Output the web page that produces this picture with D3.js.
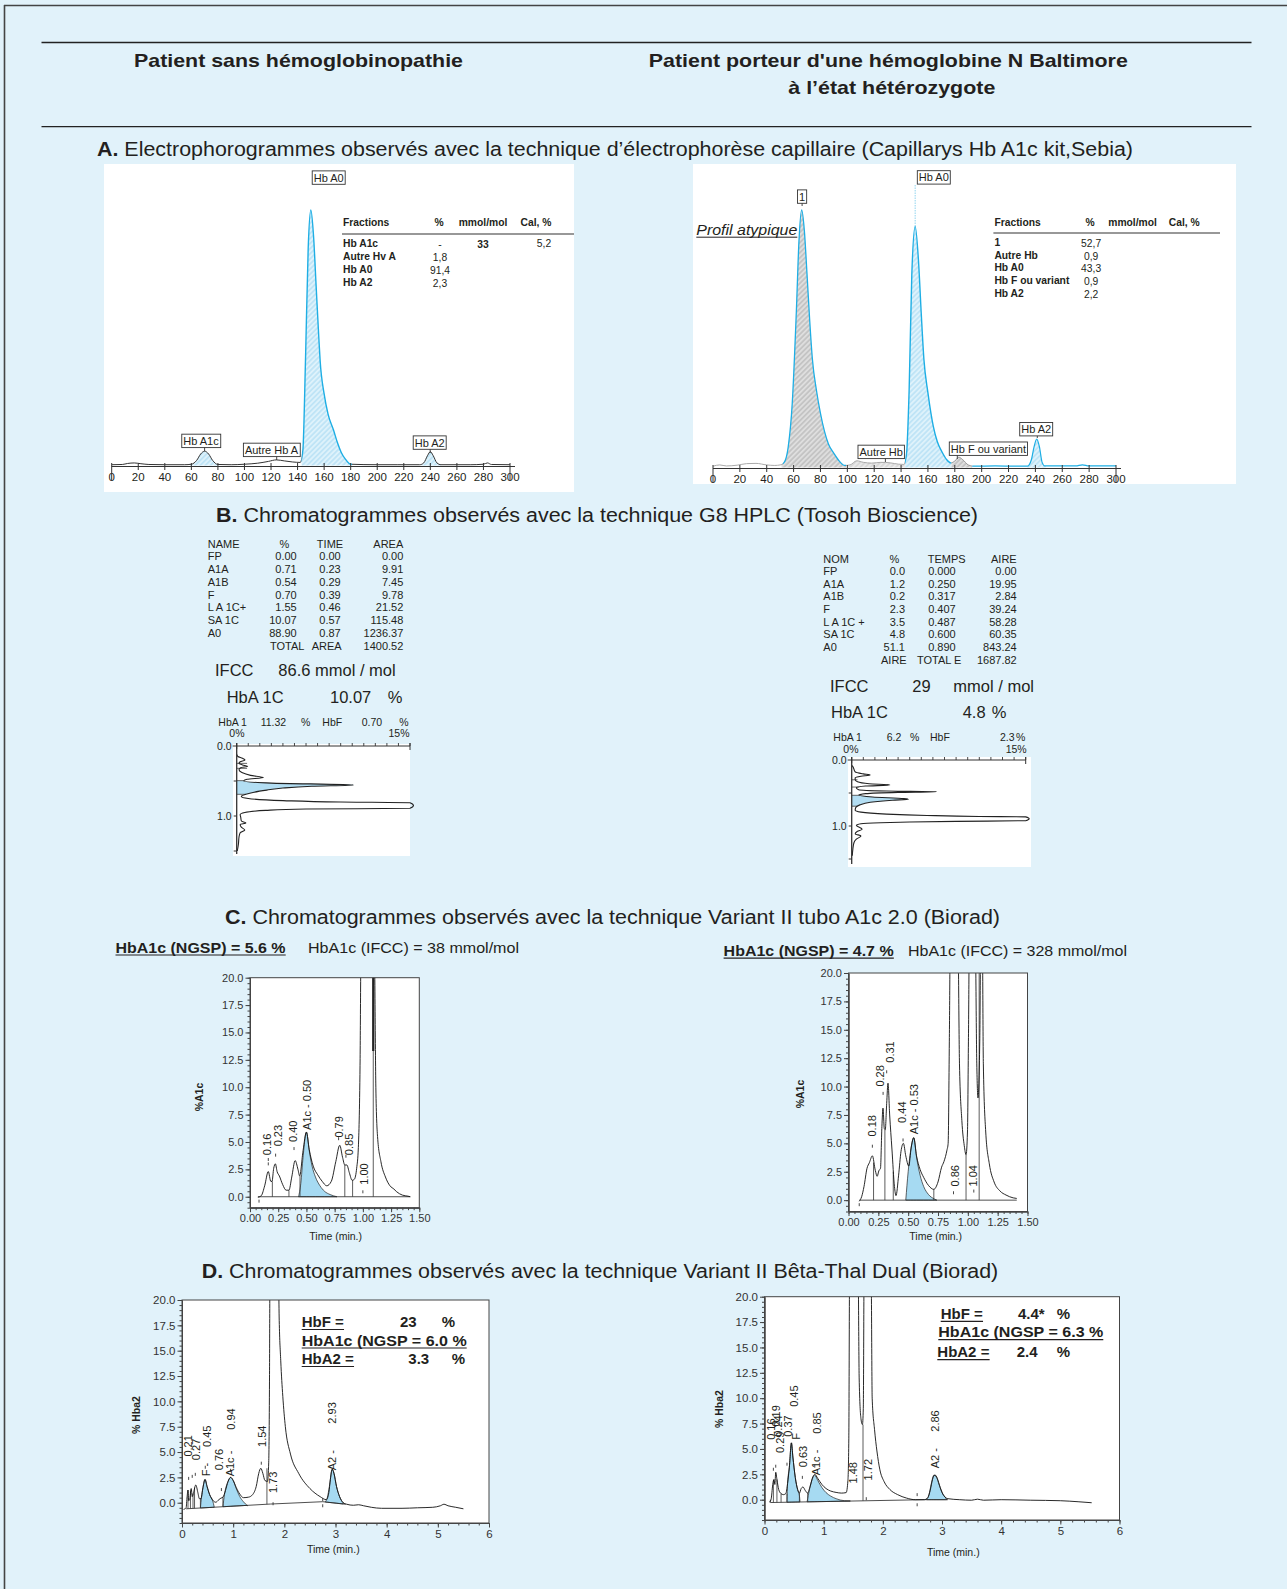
<!DOCTYPE html>
<html><head><meta charset="utf-8">
<script src="https://cdn.jsdelivr.net/npm/d3@7"></script>
<style>
html,body{margin:0;padding:0;background:#e1f2fa;}
svg{display:block;}
text{font-family:'Liberation Sans',Arial,Helvetica,sans-serif;fill:#231f20;}
</style></head><body>
<script>
// ================= DATA =================
const headerLeft = "Patient sans hémoglobinopathie";
const headerRight = ["Patient porteur d'une hémoglobine N Baltimore", "à l’état hétérozygote"];
const titleA = ["A.", "Electrophorogrammes observés avec la technique d’électrophorèse capillaire (Capillarys Hb A1c kit,Sebia)"];
const titleB = ["B.", "Chromatogrammes observés avec la technique G8 HPLC (Tosoh Bioscience)"];
const titleC = ["C.", "Chromatogrammes observés avec la technique Variant II tubo A1c 2.0 (Biorad)"];
const titleD = ["D.", "Chromatogrammes observés avec la technique Variant II Bêta-Thal Dual (Biorad)"];

// Panel A – capillary electrophoresis (x: migration units, y: % of tallest peak)
const elecTicks = [0,20,40,60,80,100,120,140,160,180,200,220,240,260,280,300];
const elecLeft = [[0,0.3],[8,0.4],[12,0.8],[17,1.0],[22,0.7],[28,0.4],[40,0.3],[55,0.3],[60,0.5],[64,2],[67,4.5],[70,5.6],[73,4.5],[76,2],[80,0.4],[90,0.3],[100,0.5],[110,0.9],[118,1.6],[124,2.2],[130,1.8],[136,1.4],[142,1.2],[144,6],[146,42],[148,85],[150,100],[152,90],[154,70],[156,50],[157,41],[160,28],[163,20],[167,14],[170,9],[173,5],[176,2.5],[180,0.5],[200,0.3],[215,0.3],[232,0.3],[235,1],[238,4],[240,5.4],[242,4],[245,1],[248,0.3],[270,0.3],[280,0.5],[283,1],[286,0.4],[300,0.3]];
const elecRight = [[0,0.5],[5,1],[10,0.6],[18,0.9],[25,1.5],[32,1.6],[40,1.0],[46,0.8],[50,1.0],[53,2],[56,8],[59,25],[62,60],[64,88],[66,100],[68,92],[70,75],[72,57],[74,42],[77,30],[80,21],[83,14],[86,9],[90,5.5],[94,2.5],[98,0.8],[102,1.0],[107,2.6],[112,2.0],[118,1.7],[125,2.0],[132,1.8],[138,1.3],[142,1.2],[144,5],[146,30],[148,75],[150.5,93.6],[153,80],[155,60],[157,42],[160,29],[164,16],[167,10],[170.5,6],[174,3],[177,1.8],[180,2.5],[183,4],[186,3],[190,1],[194,0.5],[210,0.6],[225,0.5],[234,0.5],[237,3],[239,8],[241,11],[243,8],[245,2],[247,0.6],[270,0.6],[275,1],[280,0.6],[300,0.6]];
const fracHeader = ["Fractions","%","mmol/mol","Cal, %"];
const fracLeftNames = ["Hb A1c","Autre Hv A","Hb A0","Hb A2"];
const fracLeftPct = ["-","1,8","91,4","2,3"];
const fracLeftMmol = ["33","","",""];
const fracLeftCal = ["5,2","","",""];
const fracRightNames = ["1","Autre Hb","Hb A0","Hb F ou variant","Hb A2"];
const fracRightPct = ["52,7","0,9","43,3","0,9","2,2"];

// Panel B – G8 HPLC (time in min, value in %)
const g8LeftHead = ["NAME","%","TIME","AREA"];
const g8LeftNames = ["FP","A1A","A1B","F","L A 1C+","SA 1C","A0"];
const g8LeftPct = ["0.00","0.71","0.54","0.70","1.55","10.07","88.90"];
const g8LeftTime = ["0.00","0.23","0.29","0.39","0.46","0.57","0.87"];
const g8LeftArea = ["0.00","9.91","7.45","9.78","21.52","115.48","1236.37"];
const g8LeftTotal = ["TOTAL","AREA","1400.52"];
const g8RightHead = ["NOM","%","TEMPS","AIRE"];
const g8RightNames = ["FP","A1A","A1B","F","L A 1C +","SA 1C","A0"];
const g8RightPct = ["0.0","1.2","0.2","2.3","3.5","4.8","51.1"];
const g8RightTime = ["0.000","0.250","0.317","0.407","0.487","0.600","0.890"];
const g8RightArea = ["0.00","19.95","2.84","39.24","58.28","60.35","843.24"];
const g8RightTotal = ["AIRE","TOTAL E","1687.82"];
const g8LeftSummary = {ifcc:"86.6 mmol / mol", a1c:"10.07", hba1:"11.32", hbf:"0.70"};
const g8RightSummary = {ifcc:"29", a1c:"4.8", hba1:"6.2", hbf:"2.3"};
const g8LeftTrace = [[0.12,0],[0.15,0.1],[0.175,0.5],[0.2,0.72],[0.225,0.3],[0.25,0.2],[0.27,0.5],[0.29,0.95],[0.31,0.35],[0.34,0.2],[0.38,0.45],[0.42,1.2],[0.45,2.3],[0.475,0.9],[0.5,0.6],[0.53,3],[0.557,10.1],[0.575,6.5],[0.6,4],[0.63,2.6],[0.66,1.5],[0.69,0.8],[0.72,0.4],[0.75,1.0],[0.78,4],[0.8,9],[0.81,15],[0.85,15.3],[0.89,15],[0.9,6],[0.92,2.5],[0.95,0.7],[0.98,0.3],[1.02,0.35],[1.07,0.4],[1.1,0.8],[1.12,0.3],[1.16,0.4],[1.2,0.7],[1.24,0.3],[1.3,0.2],[1.4,0.15],[1.5,0.05]];
const g8LeftBand = [0.495,0.69];
const g8LeftMarks = [[0.248,0.9],[0.319,0.9],[0.495,0.6],[0.69,0.8]];
const g8RightTrace = [[0.08,0],[0.1,0.1],[0.18,0.3],[0.21,1.0],[0.227,1.6],[0.245,0.8],[0.27,0.3],[0.3,0.3],[0.33,0.5],[0.36,1.5],[0.379,3.3],[0.395,1.2],[0.42,0.4],[0.45,0.6],[0.47,3],[0.48,7.3],[0.49,4],[0.51,1.2],[0.535,0.6],[0.56,1.8],[0.585,4.5],[0.596,4.9],[0.61,3.5],[0.64,1.6],[0.68,0.7],[0.72,0.35],[0.76,0.3],[0.79,0.8],[0.82,3],[0.84,6.5],[0.855,11],[0.862,15],[0.891,15.3],[0.92,15],[0.93,9],[0.94,5],[0.95,2.5],[0.965,0.8],[0.99,0.4],[1.05,0.9],[1.08,0.5],[1.12,0.3],[1.15,0.8],[1.2,0.4],[1.25,0.2],[1.35,0.1],[1.45,0.05]];
const g8RightBand = [0.535,0.70];
const g8RightMarks = [[0.30,0.5],[0.41,0.6],[0.535,0.6],[0.70,0.5]];

// Panel C – Variant II turbo A1c 2.0 (time in min, % A1c)
const cLeftHead = ["HbA1c (NGSP) = 5.6 %","HbA1c (IFCC) = 38 mmol/mol"];
const cRightHead = ["HbA1c (NGSP) = 4.7 %","HbA1c (IFCC) = 328 mmol/mol"];
const cXTicks = [0,0.25,0.5,0.75,1,1.25,1.5];
const cYTicks = [0,2.5,5,7.5,10,12.5,15,17.5,20];
const cLeftTrace = [[0.07,-0.05],[0.1,0.1],[0.13,1.0],[0.162,2.3],[0.185,1.4],[0.195,1.4],[0.21,2.6],[0.225,3.0],[0.24,2.3],[0.26,1.9],[0.29,1.1],[0.32,0.6],[0.345,0.6],[0.37,1.8],[0.4,3.3],[0.425,2.5],[0.44,1.9],[0.47,4.2],[0.5,5.9],[0.525,4.3],[0.56,2.8],[0.6,2.0],[0.64,1.4],[0.68,1.0],[0.72,1.4],[0.76,3.2],[0.795,4.7],[0.82,3.6],[0.84,2.9],[0.858,2.9],[0.88,2.2],[0.905,1.5],[0.925,1.6],[0.945,2.6],[0.96,4.5],[0.975,12],[0.985,24],[1.1,24],[1.115,10],[1.13,5.5],[1.16,3.2],[1.2,1.8],[1.24,1.0],[1.275,0.7],[1.3,0.45],[1.35,0.15],[1.4,0.05],[1.42,0]];
const cLeftBase = [[0.07,0],[1.42,0]];
const cLeftFills = [[[0.43,0],[0.45,1.2],[0.47,3.6],[0.5,5.9],[0.525,4.2],[0.55,2.8],[0.58,1.8],[0.62,1.0],[0.66,0.5],[0.71,0.2],[0.77,0]]];
const cLeftDrops = [[0.198,1.4],[0.345,0.6],[0.443,1.9],[0.84,2.9],[0.909,1.5],[1.092,21]];
const cLeftHeavy = [[1.092,13.3,21]];
const cLeftDots = [[0.162,3.0],[0.162,3.4],[0.227,3.8],[0.39,4.4],[0.785,5.3],[0.85,3.7],[1.0,0.45],[0.08,-0.4]];
const cLeftLabels = [[0.148,3.8,"0.16"],[0.251,4.6,"0.23"],[0.384,5.0,"0.40"],[0.502,6.1,"A1c - 0.50"],[0.791,5.4,"0.79"],[0.88,3.8,"0.85"],[1.013,1.1,"1.00"]];
const cRightTrace = [[0.09,-0.1],[0.11,0.3],[0.13,1.2],[0.155,2.8],[0.175,3.3],[0.2,3.9],[0.225,2.6],[0.24,2.1],[0.255,2.6],[0.268,2.8],[0.28,6.5],[0.289,8.1],[0.3,6.3],[0.308,6.2],[0.32,8.5],[0.331,10.3],[0.345,7.5],[0.364,4.5],[0.385,1.2],[0.398,0.4],[0.42,2.2],[0.44,4.3],[0.46,5.0],[0.48,3.9],[0.505,3.0],[0.525,4.6],[0.547,5.5],[0.57,3.9],[0.6,2.7],[0.63,2.0],[0.67,1.3],[0.715,0.95],[0.75,1.6],[0.78,2.9],[0.8,3.4],[0.825,4.4],[0.835,5],[0.845,14],[0.855,25],[0.915,25],[0.93,12],[0.95,7],[0.97,4.8],[0.985,4.0],[0.997,6],[1.005,14],[1.015,25],[1.06,25],[1.075,12],[1.085,9],[1.1,14],[1.11,25],[1.12,25],[1.13,12],[1.15,6],[1.18,3.2],[1.22,1.6],[1.27,0.8],[1.32,0.45],[1.38,0.2],[1.41,0.15]];
const cRightBase = [[0.09,0],[1.41,0]];
const cRightFills = [[[0.48,0],[0.5,2.5],[0.52,4.3],[0.547,5.5],[0.57,3.8],[0.6,2.2],[0.63,1.2],[0.67,0.5],[0.72,0.1],[0.74,0]]];
const cRightDrops = [[0.21,3.3],[0.305,6.2],[0.375,2.5],[0.715,0.95],[0.985,4.0],[1.095,21]];
const cRightHeavy = [];
const cRightDots = [[0.2,4.75],[0.29,9.4],[0.32,11.3],[0.457,5.3],[0.88,0.65],[1.05,0.8],[0.09,-0.4]];
const cRightLabels = [[0.194,5.6,"0.18"],[0.264,10.0,"0.28"],[0.348,12.1,"0.31"],[0.446,6.8,"0.44"],[0.549,5.8,"A1c - 0.53"],[0.892,1.2,"0.86"],[1.046,1.2,"1.04"]];

// Panel D – Variant II Beta-Thal Dual (time in min, % HbA2)
const dXTicks = [0,1,2,3,4,5,6];
const dYTicks = [0,2.5,5,7.5,10,12.5,15,17.5,20];
const dLeftBox = [["HbF =","23","%"],["HbA1c (NGSP = 6.0 %"],["HbA2 =","3.3","%"]];
const dRightBox = [["HbF =","4.4*","%"],["HbA1c (NGSP = 6.3 %"],["HbA2 =","2.4","%"]];
const dLeftTrace = [[0.03,-0.66],[0.08,-0.5],[0.1,0.6],[0.117,1.25],[0.13,0.2],[0.15,0.3],[0.18,1.4],[0.2,0.6],[0.225,1.0],[0.27,1.75],[0.31,1.0],[0.34,0.4],[0.37,0.4],[0.41,1.5],[0.45,2.3],[0.49,1.6],[0.54,0.8],[0.6,0.25],[0.66,0.05],[0.72,0.3],[0.76,0.45],[0.8,0.55],[0.85,1.2],[0.9,2.1],[0.95,2.5],[1.0,2.2],[1.06,1.5],[1.13,0.85],[1.2,0.5],[1.3,0.55],[1.38,0.8],[1.45,1.6],[1.5,2.9],[1.54,3.4],[1.58,2.9],[1.62,2.2],[1.67,2.1],[1.695,4],[1.71,12],[1.72,24],[1.88,24],[1.9,18],[1.93,14],[1.97,10.5],[2.02,7.5],[2.12,4.8],[2.28,2.9],[2.5,1.4],[2.7,0.6],[2.82,0.3],[2.87,1.0],[2.9,2.3],[2.935,3.3],[2.97,2.9],[3.02,1.6],[3.08,0.6],[3.15,0.0],[3.22,-0.15],[3.35,-0.25],[3.45,-0.2],[3.55,-0.3],[3.7,-0.45],[3.9,-0.55],[4.3,-0.55],[4.6,-0.5],[4.9,-0.45],[5.05,-0.3],[5.12,-0.15],[5.2,-0.3],[5.35,-0.45],[5.5,-0.6]];
const dLeftBase = [[0.08,-0.6],[1.73,-0.13],[2.75,0.1],[3.2,-0.15]];
const dLeftFills = [
  [[0.36,-0.52],[0.38,0.5],[0.41,1.5],[0.45,2.3],[0.49,1.6],[0.54,0.8],[0.6,0.2],[0.63,-0.43]],
  [[0.8,-0.39],[0.83,0.8],[0.9,2.1],[0.95,2.5],[1.0,2.2],[1.06,1.4],[1.13,0.6],[1.2,0.1],[1.28,-0.3]],
  [[2.8,0.1],[2.84,0.5],[2.88,1.6],[2.935,3.3],[2.97,2.9],[3.02,1.6],[3.08,0.6],[3.15,0.0]]];
const dLeftDrops = [[0.117,1.25],[0.165,1.2],[0.215,0.9],[0.245,1.5],[0.36,0.4],[0.8,0.55],[1.66,3.4]];
const dLeftHeavy = [];
const dLeftDots = [[0.13,2.4],[0.2,2.6],[0.26,2.8],[0.455,3.5],[0.77,1.3],[0.95,3.2],[1.55,3.9],[2.75,0.3],[2.75,-0.3],[1.78,-0.1]];
const dLeftLabels = [[0.123,4.55,"0.21"],[0.274,4.2,"0.27"],[0.469,2.6,"F -"],[0.483,5.5,"0.45"],[0.729,3.2,"0.76"],[0.938,2.6,"A1c -"],[0.958,7.2,"0.94"],[1.558,5.5,"1.54"],[1.773,0.95,"1.73"],[2.931,3.2,"A2 -"],[2.931,7.8,"2.93"]];
const dRightTrace = [[0.08,-0.25],[0.11,0.0],[0.14,1.5],[0.16,2.0],[0.175,1.5],[0.19,2.7],[0.21,2.0],[0.24,1.0],[0.28,0.6],[0.32,0.5],[0.36,0.6],[0.39,1.6],[0.42,3.2],[0.455,5.6],[0.48,4.2],[0.52,2.2],[0.56,1.0],[0.59,0.66],[0.62,1.1],[0.65,1.25],[0.69,0.9],[0.73,0.65],[0.77,1.3],[0.82,2.3],[0.85,2.5],[0.9,2.1],[0.97,1.5],[1.04,1.1],[1.12,0.85],[1.21,0.72],[1.3,0.65],[1.38,0.7],[1.41,1.9],[1.425,6],[1.44,24],[1.58,24],[1.6,12],[1.63,8.0],[1.655,7.4],[1.67,9],[1.685,24],[1.8,24],[1.82,10],[1.86,6.9],[1.9,4.8],[1.95,2.95],[2.02,1.8],[2.12,1.0],[2.25,0.5],[2.4,0.16],[2.55,0.0],[2.7,0.0],[2.76,0.2],[2.8,0.9],[2.84,2.0],[2.88,2.45],[2.92,2.1],[2.97,1.2],[3.03,0.4],[3.1,0.1],[3.3,0.0],[3.5,-0.05],[3.6,0.05],[3.7,-0.05],[4.0,0.0],[4.5,-0.05],[5.0,-0.1],[5.3,-0.2],[5.53,-0.3]];
const dRightBase = [[0.1,-0.28],[2.7,0.0],[3.1,0.0]];
const dRightFills = [
  [[0.38,-0.22],[0.39,1.6],[0.42,3.2],[0.455,5.6],[0.48,4.2],[0.52,2.2],[0.56,1.0],[0.59,0.4],[0.6,-0.2]],
  [[0.72,-0.2],[0.76,1.0],[0.82,2.2],[0.85,2.4],[0.9,1.9],[0.97,1.2],[1.04,0.7],[1.12,0.35],[1.21,0.1],[1.35,-0.1],[1.45,-0.12]],
  [[2.74,0.0],[2.78,0.5],[2.82,1.6],[2.86,2.4],[2.9,2.3],[2.95,1.5],[3.0,0.7],[3.06,0.2],[3.08,0.0]]];
const dRightDrops = [[0.1,0.0],[0.15,1.9],[0.21,2.0],[0.28,0.6],[0.38,0.6],[0.59,0.66],[0.73,0.65],[1.665,7.4]];
const dRightHeavy = [];
const dRightDots = [[0.15,3.0],[0.19,3.3],[0.38,3.5],[0.64,2.2],[0.85,3.3],[2.58,0.5],[2.58,-0.5],[1.72,0.1]];
const dRightLabels = [[0.105,5.9,"0.16"],[0.194,7.2,"0.19"],[0.228,6.2,"0.24"],[0.262,4.6,"0.29"],[0.402,6.2,"0.37"],[0.499,9.15,"0.45"],[0.532,5.9,"F"],[0.646,3.2,"0.63"],[0.865,2.4,"A1c -"],[0.882,6.5,"0.85"],[1.491,1.6,"1.48"],[1.754,1.9,"1.72"],[2.882,3.1,"A2 -"],[2.882,6.7,"2.86"]];

// ================= DRAWING =================
const W=1287,H=1589;
let uid=0;
const svg=d3.select("body").append("svg").attr("width",W).attr("height",H);
svg.append("rect").attr("width",W).attr("height",H).attr("fill","#e1f2fa");
const defs=svg.append("defs");
function hatch(id,bg,fg){
  const p=defs.append("pattern").attr("id",id).attr("patternUnits","userSpaceOnUse").attr("width",3.6).attr("height",3.6).attr("patternTransform","rotate(45)");
  p.append("rect").attr("width",3.6).attr("height",3.6).attr("fill",bg);
  p.append("line").attr("x1",0.9).attr("y1",0).attr("x2",0.9).attr("y2",3.6).attr("stroke",fg).attr("stroke-width",1.1);
}
hatch("hb","#bfe4f6","#f3fbff"); hatch("hg","#c4c4c4","#efefef"); hatch("hg2","#d8d8d8","#f4f4f4");

function T(g,x,y,s,o={}){
  const t=g.append("text").attr("x",x).attr("y",y).text(s).style("font-size",(o.size||10)+"px");
  if(o.bold) t.style("font-weight","bold");
  if(o.italic) t.style("font-style","italic");
  if(o.anchor) t.attr("text-anchor",o.anchor);
  if(o.len) t.attr("textLength",o.len).attr("lengthAdjust","spacingAndGlyphs");
  if(o.underline){const b=t.node().getBBox(); g.append("line").attr("x1",b.x).attr("x2",b.x+b.width).attr("y1",y+o.underline).attr("y2",y+o.underline).attr("stroke","#231f20").attr("stroke-width",o.uw||1.2);}
  return t;
}
function RT(g,x,y,s,size){
  g.append("text").attr("transform",`translate(${x},${y}) rotate(-90)`).attr("dy","0.35em").text(s).style("font-size",size+"px");
}
function line(g,x1,y1,x2,y2,c,w){return g.append("line").attr("x1",x1).attr("y1",y1).attr("x2",x2).attr("y2",y2).attr("stroke",c||"#222").attr("stroke-width",w||1);}

// Frame and header
line(svg,4,5.5,W,5.5,"#444",1.6);
line(svg,4.5,5,4.5,H,"#444",1.6);
line(svg,41.5,42.5,1251.5,42.5,"#222",1.3);
line(svg,41.5,126.7,1251.5,126.7,"#222",1.3);
T(svg,298.5,66.9,headerLeft,{size:19,bold:true,anchor:"middle",len:329});
T(svg,888.3,66.9,headerRight[0],{size:19,bold:true,anchor:"middle",len:479});
T(svg,891.8,94.2,headerRight[1],{size:19,bold:true,anchor:"middle",len:207});

function title(x,y,parts,len){
  const t=svg.append("text").attr("x",x).attr("y",y).style("font-size","20px").attr("textLength",len).attr("lengthAdjust","spacingAndGlyphs");
  t.append("tspan").style("font-weight","bold").text(parts[0]);
  t.append("tspan").text(" "+parts[1]);
}
title(97,156,titleA,1036);
title(216,522,titleB,762);
title(225,924,titleC,775);
title(201.7,1278,titleD,796.5);

// ---------- Panel A ----------
function boxLabel(g,cx,cy,s,size,tick){
  const t=T(g,cx,cy+size*0.36,s,{size,anchor:"middle"});
  const b=t.node().getBBox();
  g.insert("rect",()=>t.node()).attr("x",b.x-1.5).attr("y",cy-size*0.62).attr("width",b.width+3).attr("height",size*1.22).attr("fill","#fff").attr("stroke","#333").attr("stroke-width",0.9);
  if(tick) line(g,tick[0],cy+size*0.6,tick[0],tick[1],"#333",0.9);
}
function elecPanel(o){
  const g=svg.append("g");
  g.append("rect").attr("x",o.box[0]).attr("y",o.box[1]).attr("width",o.box[2]).attr("height",o.box[3]).attr("fill","#fff");
  const x=d3.scaleLinear().domain([0,300]).range([o.x0,o.x1]);
  const y=d3.scaleLinear().domain([0,100]).range([o.yb,o.yt]);
  const ln=d3.line().x(d=>x(d[0])).y(d=>y(d[1])).curve(d3.curveMonotoneX);
  const ar=d3.area().x(d=>x(d[0])).y0(y(0)).y1(d=>y(d[1])).curve(d3.curveMonotoneX);
  const band=(a,b)=>{const id="c"+(uid++);defs.append("clipPath").attr("id",id).append("rect").attr("x",x(a)).attr("y",0).attr("width",x(b)-x(a)).attr("height",H);return `url(#${id})`;};
  o.fills.forEach(f=>g.append("path").attr("d",ar(o.data)).attr("fill",`url(#${f[2]})`).attr("clip-path",band(f[0],f[1])));
  if(o.ext) line(g,x(o.ext[0]),y(o.ext[1]),x(o.ext[0]),o.ext[2],"#8fd3ee",1).attr("stroke-dasharray","1.5,1");
  o.strokes.forEach(s=>g.append("path").attr("d",ln(o.data)).attr("fill","none").attr("stroke",s[2]).attr("stroke-width",s[3]).attr("clip-path",band(s[0],s[1])));
  line(g,x(0),o.ya,x(300)+5,o.ya,"#333",1.2);
  elecTicks.forEach(v=>T(g,x(v),o.ya+14.5,String(v),{size:11.5,anchor:"middle"}));
  elecTicks.forEach(v=>{const lg=(v===0||v===300); line(g,x(v),o.ya-3.5,x(v),o.ya+(lg?14:3.5),"#333",1);});
  o.labels.forEach(l=>boxLabel(g,l[0],l[1],l[2],11,l[3]));
  return g;
}
const gAL=elecPanel({box:[104,164,470,328],x0:111.7,x1:510,yb:465.5,yt:210,ya:466.5,data:elecLeft,
  fills:[[59,81,"hb"],[143,181,"hb"],[233,248,"hb"]],
  strokes:[[0,143,"#333",1],[181,300,"#333",1],[143,181,"#1eaee4",1.4]],
  labels:[[328.7,177.7,"Hb A0"],[201,441,"Hb A1c",[204.6,451]],[271.5,450,"Autre Hb A",[276.7,460]],[429.7,442.7,"Hb A2",[430.2,453]]]});
const gAR=elecPanel({box:[693,164,543,320],x0:713,x1:1116,yb:467.5,yt:210,ya:468.5,data:elecRight,
  fills:[[51,99,"hg"],[100,143,"hg2"],[143,177.5,"hb"],[177.5,193,"hg"],[234,248,"hb"]],
  ext:[150.5,93.6,185],
  strokes:[[0,52,"#aaa",1],[52,99,"#1eaee4",1.3],[99,143,"#aaa",1],[143,177.5,"#1eaee4",1.4],[177.5,193,"#999",1],[193,300,"#1eaee4",1.2]],
  labels:[[802.1,196.7,"1",[802.1,206]],[933.8,177.5,"Hb A0"],[881.2,452,"Autre Hb",[885.4,462]],[988.4,448.8,"Hb F ou variant",[957.3,459]],[1036.2,429.3,"Hb A2",[1037.3,438]]]});

// fraction tables
function fracTable(g,o){
  const fs=10.3;
  T(g,o.x,o.hy,fracHeader[0],{size:fs,bold:true});
  T(g,o.cP,o.hy,fracHeader[1],{size:fs,bold:true,anchor:"middle"});
  T(g,o.cM,o.hy,fracHeader[2],{size:fs,bold:true,anchor:"middle"});
  T(g,o.cC,o.hy,fracHeader[3],{size:fs,bold:true,anchor:"middle"});
  line(g,o.x-1,o.ry,o.rx2,o.ry,"#333",1.1);
  o.names.forEach((n,i)=>{
    const yy=o.y0+i*o.dy;
    T(g,o.x,yy,n,{size:fs,bold:true});
    T(g,o.cP+1,yy+1,o.pct[i],{size:fs,anchor:"middle"});
    if(o.mmol&&o.mmol[i]) T(g,o.cM,yy+1,o.mmol[i],{size:fs,bold:true,anchor:"middle"});
    if(o.cal&&o.cal[i]) T(g,o.cC+8,yy,o.cal[i],{size:fs,anchor:"middle"});
  });
}
fracTable(gAL,{x:343,hy:225.5,cP:439,cM:483,cC:536,ry:234,rx2:574,names:fracLeftNames,pct:fracLeftPct,mmol:fracLeftMmol,cal:fracLeftCal,y0:246.5,dy:13});
fracTable(gAR,{x:994.4,hy:225.8,cP:1090.1,cM:1132.6,cC:1184.3,ry:233,rx2:1220,names:fracRightNames,pct:fracRightPct,y0:245.8,dy:12.8});
T(gAR,696.3,235,"Profil atypique",{size:15,italic:true,len:101,underline:2.2,uw:1});

// ---------- Panel B ----------
function g8Table(o){
  const g=svg.append("g");
  const fs=11;
  T(g,o.xN,o.hy,o.head[0],{size:fs});
  T(g,o.cP,o.hy,o.head[1],{size:fs,anchor:"middle"});
  T(g,o.cT,o.hy,o.head[2],{size:fs,anchor:"middle"});
  T(g,o.eA,o.hy,o.head[3],{size:fs,anchor:"end"});
  o.names.forEach((n,i)=>{
    const yy=o.y0+i*o.dy;
    T(g,o.xN,yy,n,{size:fs});
    T(g,o.eP,yy,o.pct[i],{size:fs,anchor:"end"});
    T(g,o.eT,yy,o.time[i],{size:fs,anchor:"end"});
    T(g,o.eA,yy,o.area[i],{size:fs,anchor:"end"});
  });
  T(g,o.t1,o.ty,o.total[0],{size:fs});
  T(g,o.t2,o.ty,o.total[1],{size:fs});
  T(g,o.eA,o.ty,o.total[2],{size:fs,anchor:"end"});
  return g;
}
const gBL=g8Table({head:g8LeftHead,names:g8LeftNames,pct:g8LeftPct,time:g8LeftTime,area:g8LeftArea,total:g8LeftTotal,
  xN:207.7,cP:284.3,cT:330,eP:296.7,eT:340.7,eA:403.3,hy:547.5,y0:560.3,dy:12.75,ty:650,t1:270,t2:311.7});
const gBR=g8Table({head:g8RightHead,names:g8RightNames,pct:g8RightPct,time:g8RightTime,area:g8RightArea,total:g8RightTotal,
  xN:823.3,cP:894.3,cT:946.7,eP:905,eT:955.7,eA:1016.7,hy:562.5,y0:574.8,dy:12.7,ty:663.5,t1:881,t2:917});
// summaries
T(gBL,215,676,"IFCC",{size:16.5}); T(gBL,278.3,676,g8LeftSummary.ifcc,{size:16.5});
T(gBL,226.7,703,"HbA 1C",{size:16.5}); T(gBL,330,703,g8LeftSummary.a1c,{size:16.5}); T(gBL,387.7,703,"%",{size:16.5});
T(gBL,218.3,726,"HbA 1",{size:10.5}); T(gBL,260.7,726,g8LeftSummary.hba1,{size:10.5}); T(gBL,301,726,"%",{size:10.5});
T(gBL,322.3,726,"HbF",{size:10.5}); T(gBL,361.7,726,g8LeftSummary.hbf,{size:10.5}); T(gBL,399.3,726,"%",{size:10.5});
T(gBL,229.3,736.5,"0%",{size:10.5}); T(gBL,409.5,736.5,"15%",{size:10.5,anchor:"end"});
T(gBR,830,692,"IFCC",{size:16.5}); T(gBR,912.3,692,g8RightSummary.ifcc,{size:16.5}); T(gBR,953.3,692,"mmol / mol",{size:16.5});
T(gBR,831,717.5,"HbA 1C",{size:16.5}); T(gBR,962.7,717.5,g8RightSummary.a1c,{size:16.5}); T(gBR,991.7,717.5,"%",{size:16.5});
T(gBR,833.3,741,"HbA 1",{size:10.5}); T(gBR,886.7,741,g8RightSummary.hba1,{size:10.5}); T(gBR,910,741,"%",{size:10.5});
T(gBR,930,741,"HbF",{size:10.5}); T(gBR,1000,741,g8RightSummary.hbf,{size:10.5}); T(gBR,1016,741,"%",{size:10.5});
T(gBR,843.3,752.5,"0%",{size:10.5}); T(gBR,1026.7,752.5,"15%",{size:10.5,anchor:"end"});

function hplcPanel(o){
  const g=svg.append("g");
  g.append("rect").attr("x",o.box[0]).attr("y",o.box[1]).attr("width",o.box[2]).attr("height",o.box[3]).attr("fill","#fff");
  const v=d3.scaleLinear().domain([0,15]).range([o.ax,o.x15]);
  const t=d3.scaleLinear().domain([0,1]).range([o.y0,o.y1]);
  const ln=d3.line().x(d=>v(d[1])).y(d=>t(d[0])).curve(d3.curveMonotoneY);
  const ar=d3.area().y(d=>t(d[0])).x0(v(0)).x1(d=>v(d[1])).curve(d3.curveMonotoneY);
  const id="c"+(uid++);
  defs.append("clipPath").attr("id",id).append("rect").attr("x",0).attr("width",W).attr("y",t(o.band[0])).attr("height",t(o.band[1])-t(o.band[0]));
  g.append("path").attr("d",ar(o.trace)).attr("fill","#b3def3").attr("clip-path",`url(#${id})`);
  o.marks.forEach(m=>line(g,v(0),t(m[0]),v(m[1]),t(m[0]),"#555",0.9));
  g.append("path").attr("d",ln(o.trace)).attr("fill","none").attr("stroke","#222").attr("stroke-width",1.1);
  line(g,o.ax,o.axTop,o.ax,o.axBot,"#333",1.3);
  line(g,o.ax,t(0),v(15),t(0),"#333",1);
  d3.range(0,16).forEach(k=>{const lg=(k===0); line(g,v(k),t(0)-3,v(k),t(0)+(lg?3:0),"#333",0.9);});
  line(g,v(15),t(0)-3,v(15),t(0)+4,"#333",1);
  line(g,o.ax-4,t(0),o.ax,t(0),"#333",1);
  [0.5,1,1.5].forEach(k=>line(g,o.ax-3,t(k),o.ax,t(k),"#333",1));
  T(g,o.ax-5,t(0)+3.8,"0.0",{size:10.5,anchor:"end"});
  T(g,o.ax-5,t(1)+3.8,"1.0",{size:10.5,anchor:"end"});
}
hplcPanel({box:[233,744,177,112],ax:236.7,x15:410,y0:746,y1:816,axTop:743,axBot:854,trace:g8LeftTrace,band:g8LeftBand,marks:g8LeftMarks});
hplcPanel({box:[848,757,183,110],ax:851.7,x15:1025.7,y0:760,y1:826,axTop:757,axBot:864,trace:g8RightTrace,band:g8RightBand,marks:g8RightMarks});

// ---------- Panels C & D ----------
function chromPanel(o){
  const g=svg.append("g");
  const x=d3.scaleLinear().domain(o.xd).range([o.x0,o.x1]);
  const y=d3.scaleLinear().domain(o.yd).range([o.yb,o.yt]);
  g.append("rect").attr("x",o.x0).attr("y",o.yt).attr("width",o.x1-o.x0).attr("height",o.yb-o.yt).attr("fill","#fff");
  const id="c"+(uid++);
  defs.append("clipPath").attr("id",id).append("rect").attr("x",o.x0).attr("y",o.yt).attr("width",o.x1-o.x0).attr("height",o.yb-o.yt);
  const p=g.append("g").attr("clip-path",`url(#${id})`);
  const bx=o.base.map(d=>d[0]), by=o.base.map(d=>d[1]);
  const bf=t=>{ if(t<=bx[0]) return by[0]; for(let i=1;i<bx.length;i++){ if(t<=bx[i]){const f=(t-bx[i-1])/(bx[i]-bx[i-1]); return by[i-1]+f*(by[i]-by[i-1]);} } return by[by.length-1]; };
  const ar=d3.area().x(d=>x(d[0])).y0(d=>y(bf(d[0]))).y1(d=>y(d[1])).curve(d3.curveMonotoneX);
  o.fills.forEach(f=>p.append("path").attr("d",ar(f)).attr("fill","#a6daf2").attr("stroke","#222").attr("stroke-width",0.7));
  p.append("path").attr("d",d3.line().x(d=>x(d[0])).y(d=>y(d[1]))(o.base)).attr("fill","none").attr("stroke","#222").attr("stroke-width",0.8);
  o.drops.forEach(d=>line(p,x(d[0]),y(bf(d[0])),x(d[0]),y(d[1]),"#333",0.8));
  o.heavy.forEach(d=>line(p,x(d[0]),y(d[1]),x(d[0]),y(d[2]),"#222",2.2));
  p.append("path").attr("d",d3.line().x(d=>x(d[0])).y(d=>y(d[1])).curve(d3.curveMonotoneX)(o.trace)).attr("fill","none").attr("stroke","#111").attr("stroke-width",0.9);
  o.dots.forEach(d=>line(p,x(d[0]),y(d[1])-1.5,x(d[0]),y(d[1])+1.5,"#333",0.9));
  o.labels.forEach(l=>RT(g,x(l[0]),y(l[1]),l[2],o.lsize));
  g.append("rect").attr("x",o.x0).attr("y",o.yt).attr("width",o.x1-o.x0).attr("height",o.yb-o.yt).attr("fill","none").attr("stroke","#444").attr("stroke-width",1);
  const style=(a,fs)=>{a.selectAll("text").style("font-size",fs+"px").style("fill","#333");a.selectAll("line").attr("stroke","#444");a.select(".domain").attr("stroke","#444");};
  const yMinor=d3.range(Math.ceil(o.yd[0]*2),o.yd[1]*2+1).map(k=>k/2);
  const xMinor=d3.range(0,Math.round((o.xd[1]-o.xd[0])/o.xMinorStep)+1).map(k=>o.xd[0]+k*o.xMinorStep);
  style(g.append("g").attr("transform",`translate(${o.x0},0)`).call(d3.axisLeft(y).tickValues(yMinor).tickFormat("").tickSize(2.5).tickSizeOuter(0)),o.tsize);
  style(g.append("g").attr("transform",`translate(${o.x0},0)`).call(d3.axisLeft(y).tickValues(o.yTicks).tickFormat(d3.format(".1f")).tickSize(4.5).tickSizeOuter(0).tickPadding(2)),o.tsize);
  style(g.append("g").attr("transform",`translate(0,${o.yb})`).call(d3.axisBottom(x).tickValues(xMinor).tickFormat("").tickSize(2.5).tickSizeOuter(0)),o.tsize);
  style(g.append("g").attr("transform",`translate(0,${o.yb})`).call(d3.axisBottom(x).tickValues(o.xTicks).tickFormat(o.xFmt).tickSize(4.5).tickSizeOuter(0).tickPadding(2)),o.tsize);
  g.append("text").attr("transform",`translate(${o.ytx},${o.yty}) rotate(-90)`).attr("text-anchor","middle").attr("dy","0.35em").style("font-size","10.5px").style("font-weight","bold").text(o.yTitle);
  T(g,o.xtx,o.xty,"Time (min.)",{size:10.5,anchor:"middle"});
  return g;
}
const f2=d3.format(".2f"), f0=d3.format("d");
const gCL=chromPanel({xd:[0,1.5],yd:[-1,20],x0:250,x1:419.3,yt:977.7,yb:1207.7,xTicks:cXTicks,yTicks:cYTicks,xFmt:f2,xMinorStep:0.05,
  trace:cLeftTrace,base:cLeftBase,fills:cLeftFills,drops:cLeftDrops,heavy:cLeftHeavy,dots:cLeftDots,labels:cLeftLabels,lsize:11,tsize:11,
  yTitle:"%A1c",ytx:199.6,yty:1097,xtx:335.7,xty:1239.5});
const gCR=chromPanel({xd:[0,1.5],yd:[-1,20],x0:848.5,x1:1027.5,yt:973,yb:1211.5,xTicks:cXTicks,yTicks:cYTicks,xFmt:f2,xMinorStep:0.05,
  trace:cRightTrace,base:cRightBase,fills:cRightFills,drops:cRightDrops,heavy:cRightHeavy,dots:cRightDots,labels:cRightLabels,lsize:11,tsize:11,
  yTitle:"%A1c",ytx:800.5,yty:1094,xtx:935.7,xty:1239.5});
T(svg,115.5,952.5,cLeftHead[0],{size:15.5,bold:true,len:170,underline:2.5});
T(svg,308,952.5,cLeftHead[1],{size:15.5,len:211});
T(svg,723.6,955.6,cRightHead[0],{size:15.5,bold:true,len:170,underline:2.5});
T(svg,908,955.6,cRightHead[1],{size:15.5,len:219});

const gDL=chromPanel({xd:[0,6],yd:[-2,20],x0:182,x1:489,yt:1300,yb:1523,xTicks:dXTicks,yTicks:dYTicks,xFmt:f0,xMinorStep:0.2,
  trace:dLeftTrace,base:dLeftBase,fills:dLeftFills,drops:dLeftDrops,heavy:dLeftHeavy,dots:dLeftDots,labels:dLeftLabels,lsize:11,tsize:11.5,
  yTitle:"% Hba2",ytx:136,yty:1415,xtx:333.3,xty:1553});
const gDR=chromPanel({xd:[0,6],yd:[-2,20],x0:764.5,x1:1119.5,yt:1296.7,yb:1520,xTicks:dXTicks,yTicks:dYTicks,xFmt:f0,xMinorStep:0.2,
  trace:dRightTrace,base:dRightBase,fills:dRightFills,drops:dRightDrops,heavy:dRightHeavy,dots:dRightDots,labels:dRightLabels,lsize:11,tsize:11.5,
  yTitle:"% Hba2",ytx:719.5,yty:1409,xtx:953.3,xty:1555.5});
function dBox(g,rows,o){
  T(g,o.x[0],o.y[0],rows[0][0],{size:15,bold:true,underline:2.5});
  T(g,o.v[0],o.y[0],rows[0][1],{size:15,bold:true});
  T(g,o.p,o.y[0],rows[0][2],{size:15,bold:true});
  T(g,o.x[1],o.y[1],rows[1][0],{size:15,bold:true,len:o.len,underline:2.5});
  T(g,o.x[2],o.y[2],rows[2][0],{size:15,bold:true,underline:2.5});
  T(g,o.v[1],o.y[2],rows[2][1],{size:15,bold:true});
  T(g,o.p2,o.y[2],rows[2][2],{size:15,bold:true});
}
dBox(gDL,dLeftBox,{x:[301.7,301.7,301.7],y:[1327,1345.5,1364],v:[400,408.3],p:441.7,p2:451.7,len:165});
dBox(gDR,dRightBox,{x:[940.7,938.3,937.3],y:[1318.8,1337.2,1357.2],v:[1018,1016.7],p:1056.7,p2:1056.7,len:165});
</script>
</body></html>
